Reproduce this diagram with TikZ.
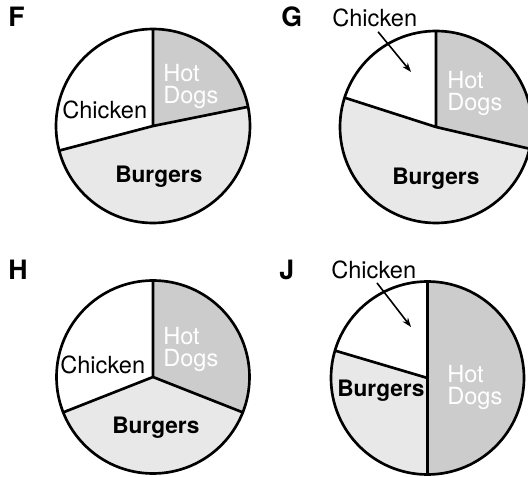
\documentclass[tikz,border=0pt]{standalone}
\usepackage{fontspec}
\setmainfont{TeX Gyre Heros}
\usetikzlibrary{arrows.meta}
\definecolor{dogfill}{RGB}{204,204,204}
\definecolor{burgerfill}{RGB}{232,232,232}

\begin{document}
\begin{tikzpicture}[x=0.75pt,y=0.75pt,yscale=-1,xscale=1,
  rim/.style={line width=2pt},
  letter/.style={anchor=base west,inner sep=0pt,font=\bfseries\fontsize{20}{22}\selectfont},
  lbl/.style={anchor=base west,inner sep=0pt,font=\fontsize{17.7}{20}\selectfont},
  burg/.style={anchor=base west,inner sep=0pt,font=\bfseries\fontsize{17}{20}\selectfont},
  dogs/.style={anchor=north west,inner sep=0pt,align=left,text=white,font=\fontsize{17.7}{16.5}\selectfont},
  ptr/.style={line width=1.2pt,-{Stealth[length=7pt,width=5pt]}}]
\clip (0,0) rectangle (528,477);
\fill[white] (0,0) rectangle (528,477);

%Pie F
\coordinate (fc) at (153,126);
\fill[dogfill] (fc) -- ++(-11.4:97) arc[start angle=-11.4, end angle=-90, radius=97] -- cycle;
\fill[white] (fc) -- ++(-90:97) arc[start angle=-90, end angle=-194.7, radius=97] -- cycle;
\fill[burgerfill] (fc) -- ++(-194.7:97) arc[start angle=-194.7, end angle=-371.4, radius=97] -- cycle;
\draw[rim] (fc) -- ++(-90:97) (fc) -- ++(-11.4:97) (fc) -- ++(-194.7:97);
\draw[rim] (fc) circle[radius=97];

%Pie G
\coordinate (gc) at (436,127);
\fill[dogfill] (gc) -- ++(13.1:96) arc[start angle=13.1, end angle=-90, radius=96] -- cycle;
\fill[white] (gc) -- ++(-90:96) arc[start angle=-90, end angle=-162.2, radius=96] -- cycle;
\fill[burgerfill] (gc) -- ++(-162.2:96) arc[start angle=-162.2, end angle=-346.9, radius=96] -- cycle;
\draw[rim] (gc) -- ++(-90:96) (gc) -- ++(13.1:96) (gc) -- ++(-162.2:96);
\draw[rim] (gc) circle[radius=96];

%Pie H
\coordinate (hc) at (153,377);
\fill[dogfill] (hc) -- ++(21.5:96.5) arc[start angle=21.5, end angle=-90, radius=96.5] -- cycle;
\fill[white] (hc) -- ++(-90:96.5) arc[start angle=-90, end angle=-201.5, radius=96.5] -- cycle;
\fill[burgerfill] (hc) -- ++(-201.5:96.5) arc[start angle=-201.5, end angle=-338.5, radius=96.5] -- cycle;
\draw[rim] (hc) -- ++(-90:96.5) (hc) -- ++(21.5:96.5) (hc) -- ++(-201.5:96.5);
\draw[rim] (hc) circle[radius=96.5];

%Pie J
\coordinate (jc) at (427.5,378);
\fill[dogfill] (jc) -- ++(90:96.5) arc[start angle=90, end angle=-90, radius=96.5] -- cycle;
\fill[white] (jc) -- ++(-90:96.5) arc[start angle=-90, end angle=-163.5, radius=96.5] -- cycle;
\fill[burgerfill] (jc) -- ++(-163.5:96.5) arc[start angle=-163.5, end angle=-270, radius=96.5] -- cycle;
\draw[rim] (jc) -- ++(-90:96.5) (jc) -- ++(90:96.5) (jc) -- ++(-163.5:96.5);
\draw[rim] (jc) circle[radius=96.5];

% Text Node
\node[letter] (fl) at (8,27) {F};
\node[letter] (gl) at (281,27) {G};
\node[letter] (hl) at (8,280) {H};
\node[letter] (jl) at (279,280) {J};

% Text Node
\node[lbl] (fchk) at (62,119) {Chicken};
\node[burg] (fbur) at (115,183) {Burgers};
\node[dogs] (fdog) at (163,64) {Hot\\Dogs};

\node[lbl] (gchk) at (332,27) {Chicken};
\node[burg] (gbur) at (392,185) {Burgers};
\node[dogs] (gdog) at (447,71) {Hot\\Dogs};
\coordinate (gtip) at (411,72);
\draw[ptr,shorten <=4pt] (gchk.south) -- (gtip);

\node[lbl] (hchk) at (60,373) {Chicken};
\node[burg] (hbur) at (112,433) {Burgers};
\node[dogs] (hdog) at (163,327) {Hot\\Dogs};

\node[lbl] (jchk) at (331,278) {Chicken};
\node[burg] (jbur) at (337,396) {Burgers};
\node[dogs] (jdog) at (447,365) {Hot\\Dogs};
\coordinate (jtip) at (411,327);
\draw[ptr,shorten <=4pt] (jchk.south) -- (jtip);

\end{tikzpicture}
\end{document}
